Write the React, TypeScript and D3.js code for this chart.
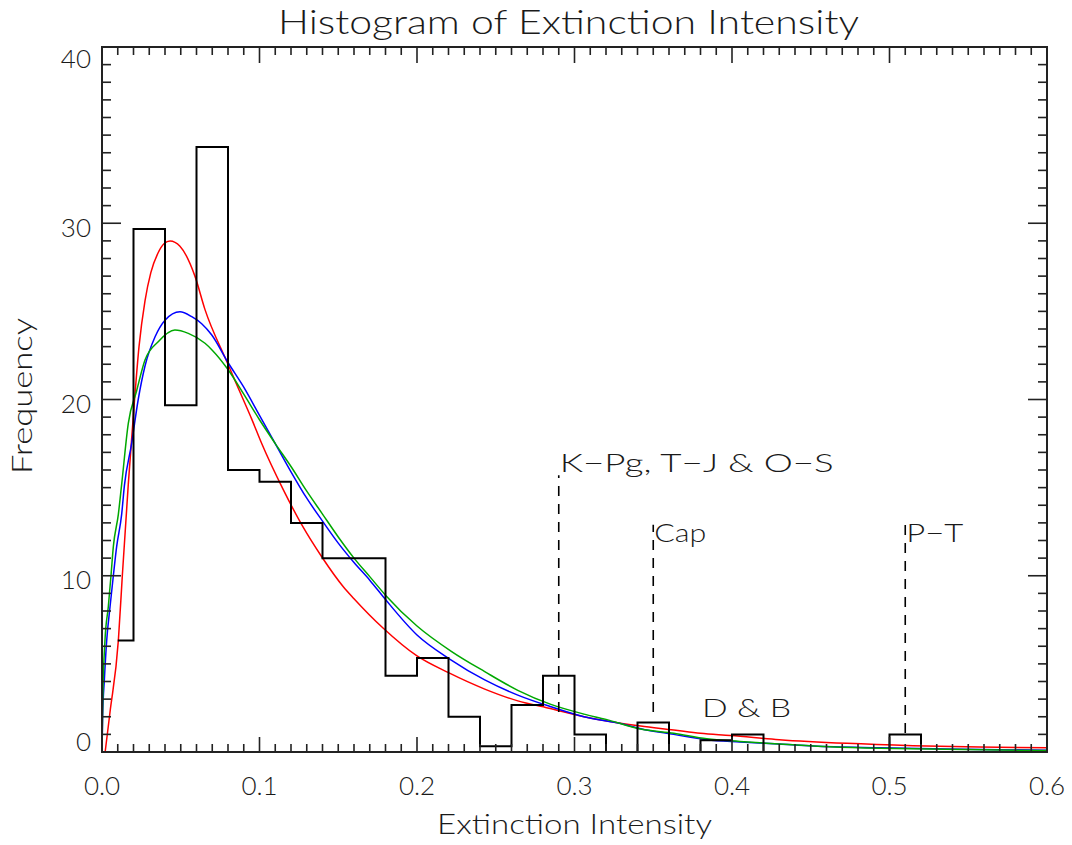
import React from 'react';
import * as d3 from 'd3';

// ---------------- data ----------------
const binCenters = [
  0.01, 0.03, 0.05, 0.07, 0.09, 0.11, 0.13, 0.15, 0.17, 0.19,
  0.21, 0.23, 0.25, 0.27, 0.29, 0.31, 0.33, 0.35, 0.37, 0.39,
  0.41, 0.43, 0.45, 0.47, 0.49, 0.51, 0.53, 0.55, 0.57, 0.59,
];
const binValues = [
  6.33, 29.67, 19.67, 34.33, 16.0, 15.33, 13.0, 11.0, 11.0, 4.33,
  5.33, 2.0, 0.33, 2.67, 4.33, 1.0, 0.0, 1.67, 0.0, 0.67,
  1.0, 0.0, 0.0, 0.0, 0.0, 1.0, 0.0, 0.0, 0.0, 0.0,
];

const redCurve: [number, number][] = [
  [0.002, 0], [0.005, 2.2], [0.0104, 6.35], [0.0129, 10], [0.0167, 15.2],
  [0.0205, 19.8], [0.0235, 23.0], [0.0273, 25.6], [0.031, 27.2], [0.0355, 28.3],
  [0.0395, 28.85], [0.0432, 29.0], [0.0495, 28.7], [0.059, 27.0], [0.0654, 25.1],
  [0.079, 22.2], [0.0887, 20.2], [0.095, 18.9], [0.1014, 17.5], [0.115, 14.9],
  [0.1268, 12.9], [0.1395, 11.08], [0.1532, 9.38], [0.16, 8.7], [0.1786, 7.02],
  [0.2, 5.45], [0.22, 4.5], [0.243, 3.57], [0.264, 2.9], [0.283, 2.5],
  [0.306, 2.0], [0.328, 1.65], [0.342, 1.47], [0.363, 1.25], [0.38, 1.06],
  [0.399, 0.94], [0.43, 0.7], [0.473, 0.49], [0.515, 0.36], [0.557, 0.28],
  [0.6, 0.24],
];

const blueCurve: [number, number][] = [
  [0.0, 0], [0.0004, 2.0], [0.0015, 4.1], [0.003, 6.35], [0.0051, 8.24],
  [0.0072, 10.0], [0.0093, 11.65], [0.0125, 13.5], [0.0142, 15.1], [0.0188, 17.5],
  [0.023, 20.0], [0.0273, 21.9], [0.0337, 23.56], [0.04, 24.5], [0.0495, 24.98],
  [0.057, 24.7], [0.0633, 24.3], [0.0697, 23.66], [0.08, 22.1], [0.09, 20.7],
  [0.1, 19.1], [0.11, 17.5], [0.12, 15.9], [0.13, 14.4], [0.14, 13.1],
  [0.15, 11.85], [0.16, 10.75], [0.17, 9.75], [0.18, 8.65], [0.2, 6.64],
  [0.221, 5.26], [0.243, 4.09], [0.264, 3.23], [0.285, 2.57], [0.306, 2.0],
  [0.33, 1.6], [0.342, 1.32], [0.363, 1.0], [0.384, 0.7], [0.405, 0.57],
  [0.43, 0.45], [0.4516, 0.34], [0.494, 0.24], [0.536, 0.17], [0.6, 0.1],
];

const greenCurve: [number, number][] = [
  [0.0, 0], [0.0005, 3.0], [0.0019, 6.35], [0.004, 8.24], [0.0057, 10.0],
  [0.0072, 11.65], [0.0104, 13.5], [0.0125, 15.2], [0.0167, 18.65], [0.022, 20.5],
  [0.0273, 22.24], [0.0357, 23.28], [0.0463, 23.94], [0.0548, 23.75], [0.0654, 23.19],
  [0.07, 22.8], [0.08, 21.7], [0.09, 20.3], [0.1, 18.85], [0.11, 17.5],
  [0.12, 16.2], [0.13, 14.8], [0.14, 13.5], [0.15, 12.2], [0.16, 11.0],
  [0.17, 9.95], [0.18, 8.9], [0.2, 7.15], [0.222, 5.7], [0.243, 4.56],
  [0.264, 3.5], [0.285, 2.7], [0.306, 2.15], [0.32, 1.85], [0.342, 1.3],
  [0.363, 1.06], [0.384, 0.75], [0.405, 0.6], [0.43, 0.45], [0.462, 0.3],
  [0.494, 0.21], [0.536, 0.15], [0.6, 0.08],
];

const xTickValues = [0, 0.1, 0.2, 0.3, 0.4, 0.5, 0.6];
const xTickLabels = ['0.0', '0.1', '0.2', '0.3', '0.4', '0.5', '0.6'];
const yTickValues = [0, 10, 20, 30, 40];
const yTickLabels = ['0', '10', '20', '30', '40'];

// annotations: label, x of dashed line, dashed range (low, high), label baseline
const annotLabels = ['K\u2212Pg, T\u2212J & O\u2212S', 'Cap', 'P\u2212T'];
const annotX = [0.29, 0.35, 0.51];
const annotLow = [2.27, 2.27, 1.08];
const annotHigh = [15.7, 12.9, 12.9];
const annotTextY = [15.9, 11.9, 11.9];
const annotTextW = [274, 52, 57];

const dbLabel = 'D & B';
const dbX = 0.381;
const dbY = 1.99;

const title = 'Histogram of Extinction Intensity';
const xTitle = 'Extinction Intensity';
const yTitle = 'Frequency';

// ---------------- layout ----------------
const W = 1072;
const H = 845;
const L = 102, R = 1047, T = 47, B = 752;
const FONT = 'Lato, "DejaVu Sans", sans-serif';
const INK = '#1a1a1a';

export default function App() {
  const x = d3.scaleLinear().domain([0, 0.6]).range([L, R]);
  const y = d3.scaleLinear().domain([0, 40]).range([B, T]);

  const histLine = d3
    .line<number>()
    .x((_, i) => x(binCenters[i]))
    .y((d) => y(d))
    .curve(d3.curveStep);

  const curveLine = d3
    .line<[number, number]>()
    .x((d) => x(d[0]))
    .y((d) => y(d[1]))
    .curve(d3.curveMonotoneX);

  const xMinor = d3.range(0, 61).map((i) => i / 100);
  const yMinor = d3.range(0, 41);
  const isXMajor = (v: number) => Math.abs(v * 10 - Math.round(v * 10)) < 1e-6;

  return (
    <svg
      width={W}
      height={H}
      style={{ position: 'absolute', left: 0, top: 0, background: '#fff' }}
      fontFamily={FONT}
    >
      <rect x={0} y={0} width={W} height={H} fill="#fff" />
      {/* title */}
      <text
        x={(L + R) / 2 - 6}
        y={34}
        fontSize={34}
        fontWeight={300}
        textAnchor="middle"
        fill={INK}
        textLength={581}
        lengthAdjust="spacingAndGlyphs"
      >
        {title}
      </text>

      {/* curves */}
      <path d={curveLine(redCurve) || ''} fill="none" stroke="#ff0000" strokeWidth={1.5} />
      <path d={curveLine(blueCurve) || ''} fill="none" stroke="#0000ff" strokeWidth={1.5} />
      <path d={curveLine(greenCurve) || ''} fill="none" stroke="#00a800" strokeWidth={1.5} />

      {/* histogram */}
      <path d={histLine(binValues) || ''} fill="none" stroke="#000" strokeWidth={2} />

      {/* annotations */}
      {annotLabels.map((lab, i) => (
        <g key={lab}>
          <line
            x1={x(annotX[i])}
            x2={x(annotX[i])}
            y1={y(annotLow[i])}
            y2={y(annotHigh[i])}
            stroke="#000"
            strokeWidth={1.6}
            strokeDasharray="10,8"
          />
          <text
            x={x(annotX[i]) + 1}
            y={y(annotTextY[i])}
            fontSize={26}
            fontWeight={300}
            fill={INK}
            textLength={annotTextW[i]}
            lengthAdjust="spacingAndGlyphs"
          >
            {lab}
          </text>
        </g>
      ))}
      <text
        x={x(dbX)}
        y={y(dbY)}
        fontSize={26}
        fontWeight={300}
        fill={INK}
        textLength={89}
        lengthAdjust="spacingAndGlyphs"
      >
        {dbLabel}
      </text>

      {/* frame */}
      <rect x={L} y={T} width={R - L} height={B - T} fill="none" stroke="#222" strokeWidth={2} />

      {/* x ticks (bottom & top) */}
      {xMinor.map((v) => {
        const major = isXMajor(v);
        const px = x(v);
        return (
          <g key={'xt' + v}>
            <line x1={px} x2={px} y1={B} y2={B - (major ? 15 : 8)} stroke="#222" strokeWidth={1.6} />
            <line x1={px} x2={px} y1={T} y2={T + (major ? 16 : 8)} stroke="#222" strokeWidth={1.6} />
          </g>
        );
      })}
      {/* y ticks (left & right) */}
      {yMinor.map((v) => {
        const major = v % 10 === 0;
        const py = y(v);
        return (
          <g key={'yt' + v}>
            <line x1={L} x2={L + (major ? 19 : 9)} y1={py} y2={py} stroke="#222" strokeWidth={1.6} />
            <line x1={R} x2={R - (major ? 19 : 9)} y1={py} y2={py} stroke="#222" strokeWidth={1.6} />
          </g>
        );
      })}

      {/* x tick labels */}
      {xTickValues.map((v, i) => (
        <text
          key={'xl' + v}
          x={x(v)}
          y={795}
          fontSize={26}
          fontWeight={300}
          textAnchor="middle"
          fill={INK}
        >
          {xTickLabels[i]}
        </text>
      ))}
      {/* y tick labels */}
      {yTickValues.map((v, i) => {
        const cy = Math.max(T + 12, Math.min(B - 10, y(v) + 4));
        return (
          <text
            key={'yl' + v}
            x={91}
            y={cy}
            dy="0.36em"
            fontSize={26}
            fontWeight={300}
            textAnchor="end"
            fill={INK}
          >
            {yTickLabels[i]}
          </text>
        );
      })}

      {/* axis titles */}
      <text
        x={(L + R) / 2}
        y={834}
        fontSize={27}
        fontWeight={300}
        textAnchor="middle"
        fill={INK}
        textLength={275}
        lengthAdjust="spacingAndGlyphs"
      >
        {xTitle}
      </text>
      <text
        transform={`translate(32, ${(318 + 474) / 2}) rotate(-90)`}
        fontSize={27}
        fontWeight={300}
        textAnchor="middle"
        fill={INK}
        textLength={156}
        lengthAdjust="spacingAndGlyphs"
      >
        {yTitle}
      </text>
    </svg>
  );
}
